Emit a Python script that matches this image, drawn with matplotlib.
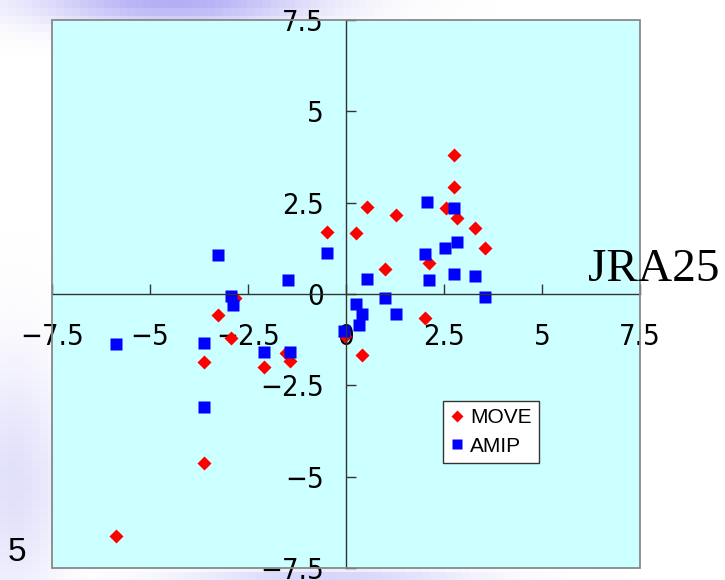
import matplotlib.pyplot as plt
import numpy as np
from matplotlib.patches import Rectangle

# MOVE (red diamonds) and AMIP (blue squares)
move_x = [-5.88, -3.61, -3.62, -3.26, -2.94, -2.83, -2.09, -1.53, -1.43, -0.48,
          0.26, 0.54, 1.27, 1.00, -0.03, 0.40, 2.02, 2.13, 2.54, 2.76,
          2.76, 2.84, 3.30, 3.55]
move_y = [-6.63, -4.62, -1.85, -0.58, -1.21, -0.10, -1.99, -1.62, -1.84, 1.70,
          1.67, 2.37, 2.16, 0.69, -1.15, -1.67, -0.65, 0.84, 2.36, 3.80,
          2.94, 2.07, 1.80, 1.27]
amip_x = [-5.88, -3.61, -3.61, -3.26, -2.94, -2.89, -2.09, -1.43, -1.47, -0.48,
          -0.04, 0.26, 0.40, 0.33, 0.54, 1.00, 1.27, 2.02, 2.11, 2.06,
          2.76, 2.53, 2.84, 2.76, 3.30, 3.55]
amip_y = [-1.38, -1.33, -3.10, 1.07, -0.05, -0.30, -1.58, -1.59, 0.37, 1.13,
          -1.01, -0.27, -0.56, -0.85, 0.40, -0.12, -0.56, 1.09, 0.37, 2.51,
          2.36, 1.25, 1.42, 0.56, 0.49, -0.07]

ticks = [-7.5, -5, -2.5, 0, 2.5, 5, 7.5]
tick_labels = ['\u22127.5', '\u22125', '\u22122.5', '0', '2.5', '5', '7.5']

fig = plt.figure(figsize=(7.25, 5.8), dpi=100)

# lavender smudges of the slide background
bg = fig.add_axes([0, 0, 1, 1], zorder=-5)
gy, gx = np.mgrid[4:580:8, 4:725:8]
a = np.zeros(gx.shape)
for cx, cy, rx, ry, s in [(175, 0, 140, 28, 0.8), (15, 480, 50, 120, 0.3),
                          (330, 582, 140, 16, 0.6)]:
    a = np.maximum(a, s * np.exp(-((gx - cx) / rx) ** 2 - ((gy - cy) / ry) ** 2))
img = np.zeros(gx.shape + (4,))
img[..., 0] = 0.62
img[..., 1] = 0.60
img[..., 2] = 0.95
img[..., 3] = a
bg.imshow(img, extent=(0, 725, 580, 0), interpolation='nearest', aspect='auto')
bg.set_xlim(0, 725)
bg.set_ylim(580, 0)
bg.axis('off')

ax = fig.add_axes([52 / 725, 12 / 580, 588 / 725, 548 / 580])
ax.set_facecolor('#CCFFFF')
ax.set_xlim(-7.5, 7.5)
ax.set_ylim(-7.5, 7.5)

for side in ['left', 'bottom']:
    ax.spines[side].set_position(('data', 0))
    ax.spines[side].set_color('#333333')
    ax.spines[side].set_linewidth(1)
for side in ['top', 'right']:
    ax.spines[side].set_visible(False)
ax.add_patch(Rectangle((0, 0), 1, 1, transform=ax.transAxes, fill=False,
                       edgecolor='#888888', lw=1.3, clip_on=False, zorder=3))

ax.set_xticks(ticks, tick_labels)
ax.set_yticks(ticks, tick_labels)
ax.tick_params(direction='in', length=7, width=1, color='#333333', labelsize=21)
ax.tick_params(axis='x', pad=21)
ax.tick_params(axis='y', pad=16)
for lbl in ax.get_xticklabels() + ax.get_yticklabels():
    lbl.set_fontfamily('DejaVu Sans')
    lbl.set_fontstretch('condensed')

ax.plot(move_x, move_y, 'D', color='red', ms=7.5, mec='none', label='MOVE')
ax.plot(amip_x, amip_y, 's', color='blue', ms=8.5, mec='none', label='AMIP')

leg = ax.legend(loc='upper left', bbox_to_anchor=(0.665, 0.305), fancybox=False,
                edgecolor='#333333', framealpha=1,
                prop={'family': 'Liberation Sans', 'size': 15},
                handlelength=0.6, handletextpad=0.35, borderpad=0.35,
                labelspacing=0.45, borderaxespad=0, markerscale=0.8)
leg.get_frame().set_linewidth(1)

ax.text(6.17, 0.36, 'JRA25', fontsize=34, family='Liberation Serif',
        clip_on=False, va='baseline', ha='left')
fig.text(0.01, 0.047, '5', fontsize=24, va='center', family='Liberation Sans')

fig.savefig('out.png', dpi=100)
